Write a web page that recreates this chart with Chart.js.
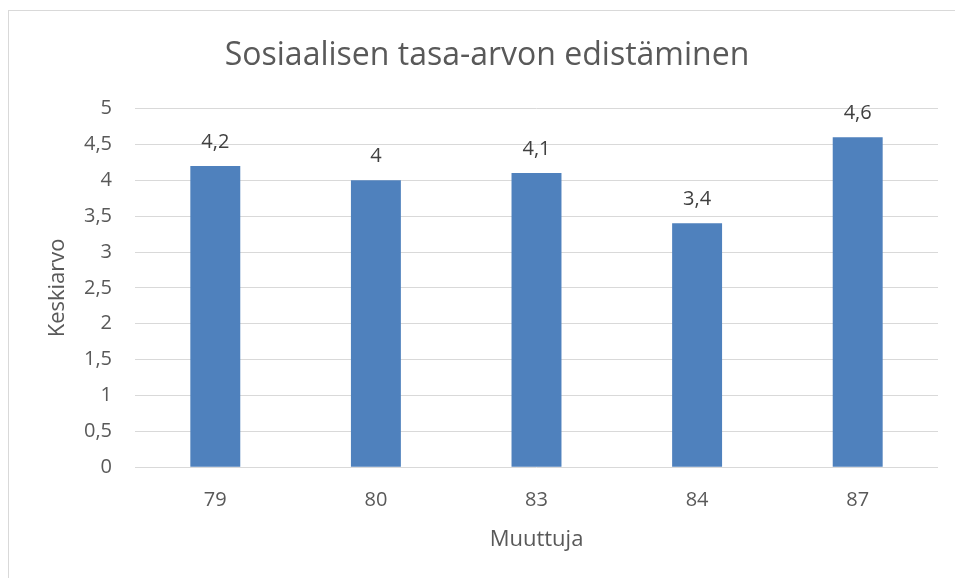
<!DOCTYPE html>
<html>
<head>
<meta charset="utf-8">
<script src="https://cdn.jsdelivr.net/npm/chart.js@4.4.0/dist/chart.umd.min.js"></script>
<style>
  html, body { margin: 0; padding: 0; background: #fff; }
  #wrap { position: relative; width: 955px; height: 578px; }
  #frame { position: absolute; left: 8px; top: 10px; width: 960px; height: 600px; border: 1px solid #d9d9d9; box-sizing: border-box; }
  canvas { position: absolute; left: 0; top: 0; }
</style>
</head>
<body>
<div id="wrap">
  <div id="frame"></div>
  <canvas id="grafica" width="955" height="578"></canvas>
</div>
<script>
// Datos del gráfico
const categorias = ['79', '80', '83', '84', '87'];
const valores = [4.2, 4, 4.1, 3.4, 4.6];
const titulo = 'Sosiaalisen tasa-arvon edistäminen';
const tituloY = 'Keskiarvo';
const tituloX = 'Muuttuja';

const fuente = '"Open Sans", sans-serif';
const gris = '#595959';

function formatoComa(v) {
  return String(v).replace('.', ',');
}

// Etiquetas de datos encima de las barras
const etiquetasPlugin = {
  id: 'etiquetas',
  afterDatasetsDraw(chart) {
    const ctx = chart.ctx;
    const meta = chart.getDatasetMeta(0);
    ctx.save();
    ctx.font = '20px ' + fuente;
    ctx.fillStyle = '#404040';
    ctx.textAlign = 'center';
    ctx.textBaseline = 'middle';
    meta.data.forEach((bar, i) => {
      ctx.fillText(formatoComa(valores[i]), bar.x, bar.y - 24);
    });
    ctx.restore();
  }
};

const ctx = document.getElementById('grafica').getContext('2d');
new Chart(ctx, {
  type: 'bar',
  data: {
    labels: categorias,
    datasets: [{
      data: valores,
      backgroundColor: '#4f81bd',
      borderWidth: 0,
      barPercentage: 0.311,
      categoryPercentage: 1
    }]
  },
  options: {
    responsive: false,
    animation: false,
    layout: { padding: { left: 36, right: 17, top: 10, bottom: 0 } },
    plugins: {
      legend: { display: false },
      tooltip: { enabled: false },
      title: {
        display: true,
        text: titulo,
        color: gris,
        font: { family: fuente, size: 32, weight: 'normal' },
        padding: { top: 26.5, bottom: 33.6 }
      }
    },
    scales: {
      x: {
        grid: { display: false },
        border: { display: false },
        ticks: { color: gris, font: { family: fuente, size: 20 }, padding: 13 },
        title: {
          display: true,
          text: tituloX,
          color: gris,
          font: { family: fuente, size: 22 },
          padding: { top: 0, bottom: 24.8 }
        },
        afterFit(scale) { scale.height = 110.7; }
      },
      y: {
        min: 0,
        max: 5,
        grid: { color: '#d9d9d9', lineWidth: 1, drawTicks: false },
        border: { display: false },
        ticks: {
          stepSize: 0.5,
          color: gris,
          font: { family: fuente, size: 20 },
          padding: 23,
          callback: v => formatoComa(v)
        },
        title: {
          display: true,
          text: tituloY,
          color: gris,
          font: { family: fuente, size: 22 },
          padding: { top: 8.8, bottom: 0 }
        },
        afterFit(scale) { scale.width = 99; }
      }
    }
  },
  plugins: [etiquetasPlugin]
});
</script>
</body>
</html>
